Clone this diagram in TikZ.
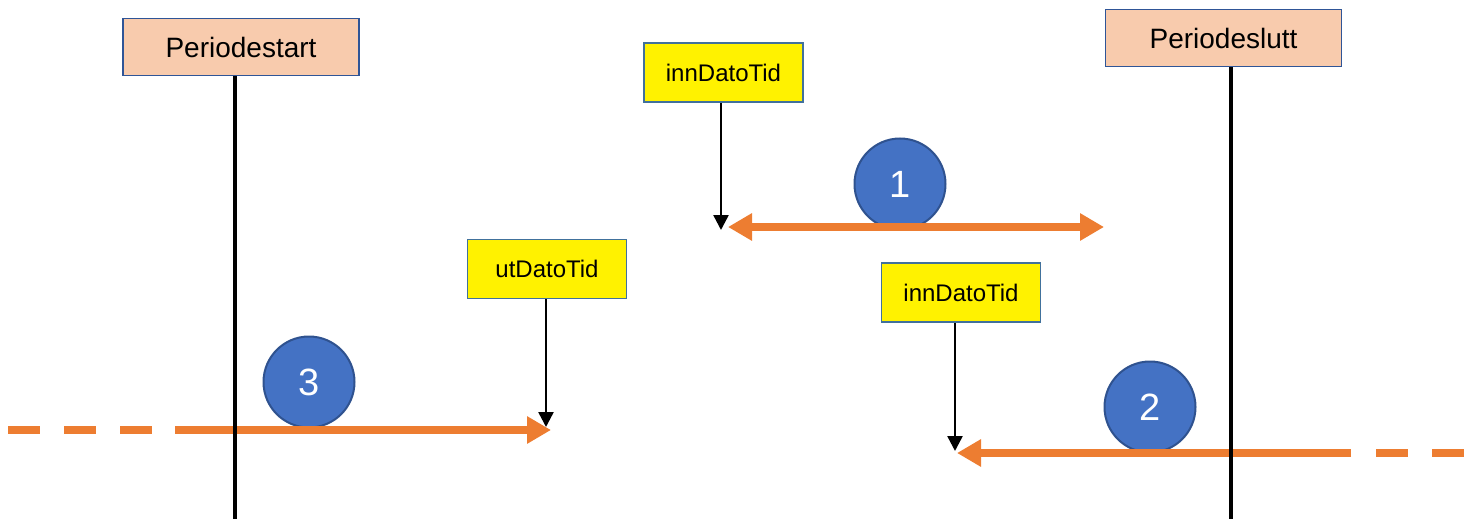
\documentclass[tikz,border=0pt]{standalone}
\usepackage{fontspec}
\setmainfont{Liberation Sans}
\usetikzlibrary{arrows.meta}
\definecolor{peach}{HTML}{F8CBAD}
\definecolor{bborder}{HTML}{2F5597}
\definecolor{yborder}{HTML}{41719C}
\definecolor{circfill}{HTML}{4472C4}
\definecolor{circborder}{HTML}{2F528F}
\definecolor{orangeline}{HTML}{ED7D31}
\begin{document}
\begin{tikzpicture}[x=1pt,y=-1pt,
  >={Triangle[length=24pt 0 0,width=26pt 0 0]},
  period/.style={draw=bborder, line width=1.8pt, fill=peach, minimum width=236pt, minimum height=57pt, inner sep=0pt, font=\fontsize{28}{32}\selectfont},
  datebox/.style={draw=yborder, line width=1.8pt, fill=yellow, minimum width=159pt, minimum height=59pt, inner sep=0pt, font=\fontsize{24}{28}\selectfont},
  num/.style={circle, draw=circborder, line width=2pt, fill=circfill, minimum size=91pt, inner sep=0pt, text=white, font=\fontsize{38}{40}\selectfont},
  vline/.style={line width=3.5pt, black},
  pointer/.style={line width=2.5pt, -{Triangle[length=15pt 0 0,width=15pt 0 0]}},
  span/.style={orangeline, line width=8pt},
  spandash/.style={orangeline, line width=8pt, dash pattern=on 32pt off 24pt}
]
\path[use as bounding box] (0,0) rectangle (1465,519);

% boxes
\node[period] (ps) at (241,47) {Periodestart};
\node[period] (pe) at (1223.5,38) {Periodeslutt};
\node[datebox] (in1) at (723.5,72.5) {innDatoTid};
\node[datebox] (ut) at (547,269) {utDatoTid};
\node[datebox] (in2) at (961,292.5) {innDatoTid};

% numbered circles
\node[num] (c1) at (900,184) {1};
\node[num] (c3) at (309,382) {3};
\node[num] (c2) at (1150,407) {2};

% pointers
\coordinate (t1) at (721,230);
\coordinate (t3) at (546,427);
\coordinate (t2) at (955,451);
\draw[pointer] (in1.south -| t1) -- (t1);
\draw[pointer] (ut.south -| t3) -- (t3);
\draw[pointer] (in2.south -| t2) -- (t2);

% orange spans
\coordinate (l1a) at (728,227);
\coordinate (l1b) at (1104,227);
\draw[span,<->] (l1a) -- (l1b);

\coordinate (l3s) at (8,430);
\coordinate (l3m) at (175,430);
\coordinate (l3d) at (200,430);
\coordinate (l3e) at (551,430);
\draw[spandash] (l3s) -- (l3d);
\draw[span,->] (l3m) -- (l3e);

\coordinate (l2e) at (957,453);
\coordinate (l2m) at (1351,453);
\coordinate (l2d) at (1376,453);
\coordinate (l2s) at (1465,453);
\draw[span,->] (l2m) -- (l2e);
\draw[spandash] (l2d) -- (l2s);

% period lines
\coordinate (psb) at (235,519);
\coordinate (peb) at (1231,519);
\draw[vline] (ps.south -| psb) -- (psb);
\draw[vline] (pe.south -| peb) -- (peb);
\end{tikzpicture}
\end{document}
